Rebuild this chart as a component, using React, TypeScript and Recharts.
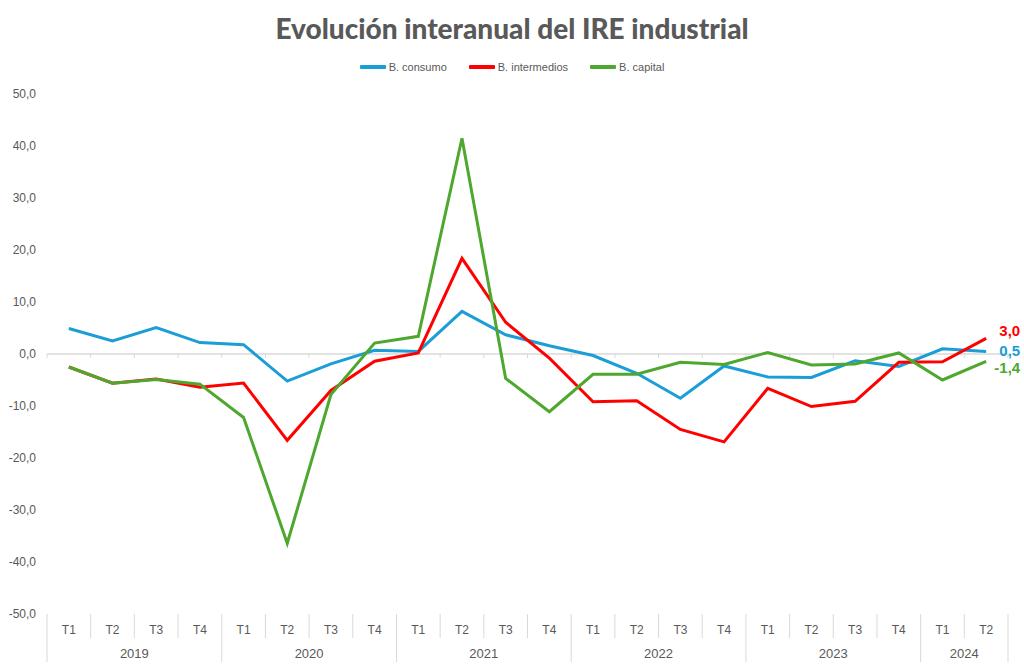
import React from 'react';
import { LineChart, Line, XAxis, YAxis, ReferenceLine } from 'recharts';

const years = ['2019','2019','2019','2019','2020','2020','2020','2020','2021','2021','2021','2021','2022','2022','2022','2022','2023','2023','2023','2023','2024','2024'];
const quarters = ['T1','T2','T3','T4','T1','T2','T3','T4','T1','T2','T3','T4','T1','T2','T3','T4','T1','T2','T3','T4','T1','T2'];
const consumo = [4.9, 2.5, 5.1, 2.2, 1.8, -5.2, -1.9, 0.7, 0.5, 8.2, 3.7, 1.6, -0.3, -3.7, -8.5, -2.3, -4.4, -4.5, -1.3, -2.4, 1.0, 0.5];
const intermedios = [-2.5, -5.6, -4.8, -6.4, -5.6, -16.6, -7.0, -1.4, 0.2, 18.4, 6.1, -0.8, -9.2, -9.0, -14.5, -16.9, -6.6, -10.1, -9.1, -1.6, -1.5, 3.0];
const capital = [-2.5, -5.6, -4.9, -5.8, -12.2, -36.4, -7.8, 2.1, 3.4, 41.5, -4.7, -11.1, -3.9, -3.9, -1.6, -2.0, 0.3, -2.1, -1.9, 0.2, -5.0, -1.4];
const yTicks = [-50, -40, -30, -20, -10, 0, 10, 20, 30, 40, 50];

const series = [
  { key: 'consumo', name: 'B. consumo', color: '#1B9DD6', dy: 5 },
  { key: 'intermedios', name: 'B. intermedios', color: '#FF0000', dy: -2 },
  { key: 'capital', name: 'B. capital', color: '#4EA72E', dy: 12 },
];

const data = quarters.map((q, i) => ({
  label: years[i] + '-' + q,
  year: years[i],
  q,
  consumo: consumo[i],
  intermedios: intermedios[i],
  capital: capital[i],
}));

const W = 1024;
const H = 669;
const MARGIN = { top: 94, right: 16, bottom: 7, left: 0 };
const Y_WIDTH = 47;
const X_HEIGHT = 48;
const N = data.length;
const BW = (W - MARGIN.left - MARGIN.right - Y_WIDTH) / N;
const SEP = '#D9D9D9';
const TXT = '#595959';
const FONT = '"Liberation Sans", Arial, sans-serif';

const fmt = (v: number) => v.toFixed(1).replace('.', ',');

const XTick = (props: any) => {
  const { x, y, index } = props;
  const i = index as number;
  const d = data[i];
  const first = i === 0 || data[i - 1].year !== d.year;
  const count = data.filter((e) => e.year === d.year).length;
  const left = x - BW / 2;
  const right = x + BW / 2;
  return (
    <g>
      <line x1={left} x2={left} y1={y} y2={first ? y + 48 : y + 24} stroke={SEP} strokeWidth={1} />
      {i === N - 1 && <line x1={right} x2={right} y1={y} y2={y + 48} stroke={SEP} strokeWidth={1} />}
      <text x={x} y={y + 20} textAnchor="middle" fontSize={12} fill={TXT} fontFamily={FONT}>{d.q}</text>
      {first && (
        <text x={x + ((count - 1) * BW) / 2} y={y + 44} textAnchor="middle" fontSize={13} fill={TXT} fontFamily={FONT}>{d.year}</text>
      )}
    </g>
  );
};

const ZeroLine = (props: any) => {
  const { x1, y1, x2 } = props;
  const step = (x2 - x1) / N;
  const marks = [];
  for (let k = 0; k <= N; k++) {
    const xx = x1 + k * step;
    marks.push(<line key={k} x1={xx} x2={xx} y1={y1} y2={y1 + 4} stroke={SEP} strokeWidth={1} />);
  }
  return (
    <g>
      <line x1={x1} x2={x2} y1={y1} y2={y1} stroke={SEP} strokeWidth={1.3} />
      {marks}
    </g>
  );
};

const makeEndLabel = (color: string, dy: number) => (props: any) => {
  const { x, y, value, index } = props;
  if (index !== N - 1) return null;
  return (
    <text x={x + 34} y={y + dy} textAnchor="end" fontSize={15} fontWeight="bold" fill={color} fontFamily={FONT}>
      {fmt(value)}
    </text>
  );
};

export default function App() {
  return (
    <div style={{ position: 'absolute', left: 0, top: 0, width: W, height: H, background: '#fff', fontFamily: FONT }}>
      <div
        style={{
          position: 'absolute',
          top: 9,
          left: 0,
          width: W,
          textAlign: 'center',
          fontFamily: 'Lato, "Open Sans", sans-serif',
          fontWeight: 900,
          fontSize: 28,
          color: TXT,
          lineHeight: '38px',
        }}
      >
        Evolución interanual del IRE industrial
      </div>
      <div
        style={{
          position: 'absolute',
          top: 59,
          left: 0,
          width: W,
          display: 'flex',
          justifyContent: 'center',
          gap: 22,
          fontSize: 11,
          color: TXT,
          fontFamily: FONT,
          lineHeight: '16px',
        }}
      >
        {series.map((s) => (
          <div key={s.key} style={{ display: 'flex', alignItems: 'center' }}>
            <span style={{ display: 'inline-block', width: 26, height: 3.5, background: s.color, borderRadius: 1, marginRight: 3 }} />
            <span>{s.name}</span>
          </div>
        ))}
      </div>
      <div style={{ position: 'absolute', left: 0, top: 0 }}>
        <LineChart width={W} height={H} data={data} margin={MARGIN}>
          <XAxis
            dataKey="label"
            scale="band"
            interval={0}
            axisLine={false}
            tickLine={false}
            tickSize={0}
            tickMargin={0}
            height={X_HEIGHT}
            tick={<XTick />}
          />
          <YAxis
            width={Y_WIDTH}
            domain={[-50, 50]}
            ticks={yTicks}
            axisLine={false}
            tickLine={false}
            tickSize={0}
            tickMargin={11}
            tickFormatter={fmt}
            tick={{ fontSize: 12, fill: TXT, fontFamily: FONT }}
          />
          <ReferenceLine y={0} shape={(p: any) => <ZeroLine {...p} />} />
          {series.map((s) => (
            <Line
              key={s.key}
              type="linear"
              dataKey={s.key}
              name={s.name}
              stroke={s.color}
              strokeWidth={3}
              dot={false}
              activeDot={false}
              isAnimationActive={false}
              label={makeEndLabel(s.color, s.dy)}
            />
          ))}
        </LineChart>
      </div>
    </div>
  );
}
